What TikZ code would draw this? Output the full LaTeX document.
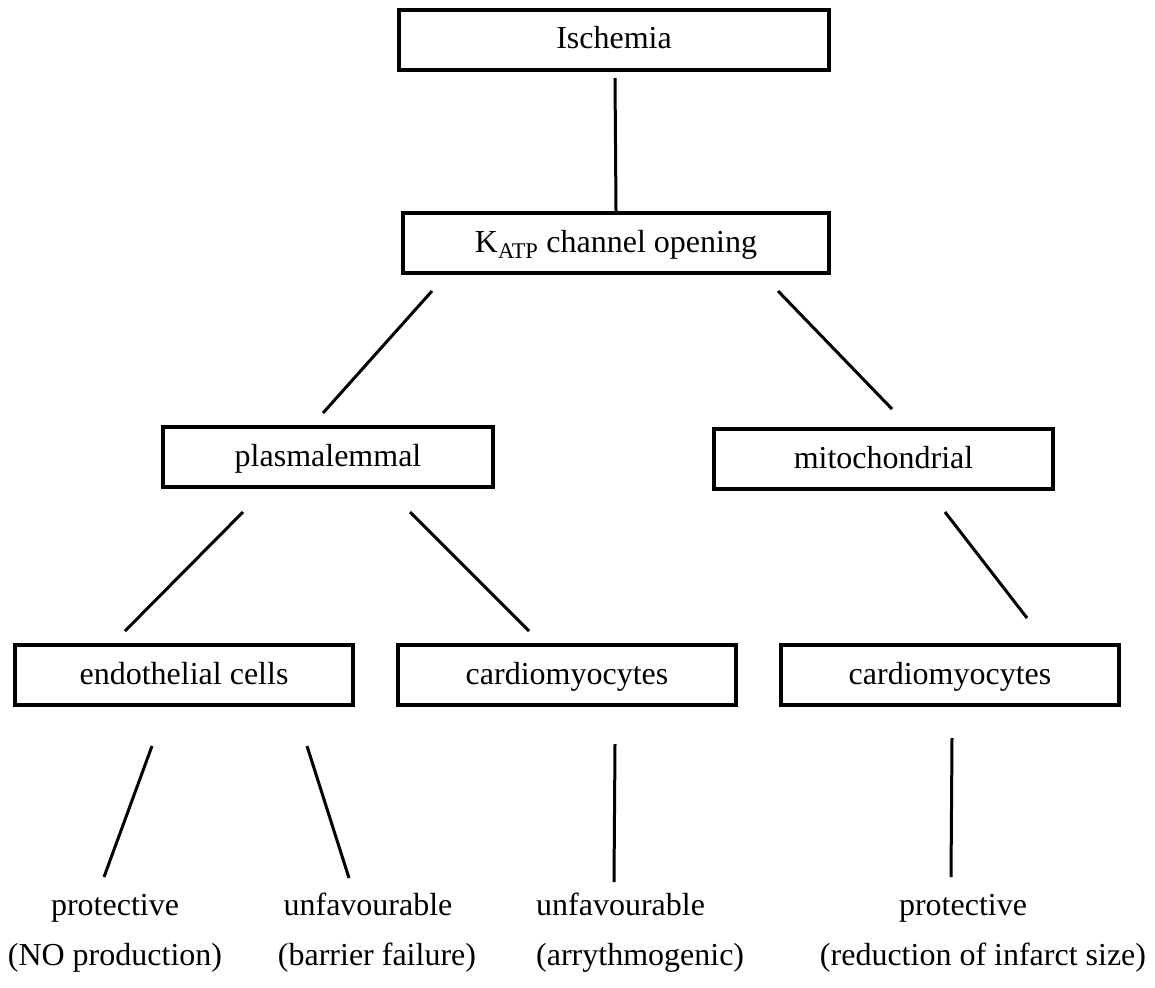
\documentclass[tikz,border=0pt]{standalone}
\usepackage{fontspec}
\setmainfont{Liberation Serif}
\begin{document}
\begin{tikzpicture}[x=1pt,y=-1pt,
  box/.style={draw, line width=3.5pt, inner sep=0pt, minimum height=60pt,
              text height=23pt, text depth=5pt,
              font=\fontsize{32}{38}\selectfont},
  link/.style={line width=3pt},
  outcome/.style={inner sep=0pt, font=\fontsize{32}{50}\selectfont, anchor=base}]
\useasboundingbox (0,0) rectangle (1155,987);
% boxes
\node[box, minimum width=430pt] (isch) at (614,40) {Ischemia};
\node[box, minimum width=426pt] (katp) at (616,243) {K\textsubscript{ATP} channel opening};
\node[box, minimum width=330pt] (plas) at (328,457) {plasmalemmal};
\node[box, minimum width=339pt] (mito) at (883.5,459) {mitochondrial};
\node[box, minimum width=338pt] (endo) at (184,675) {endothelial cells};
\node[box, minimum width=338pt] (card1) at (567,675) {cardiomyocytes};
\node[box, minimum width=338pt] (card2) at (950,675) {cardiomyocytes};
% outcomes (anchor base = baseline of the last line)
\node[outcome, align=center] (o1) at (115,965) {protective\\(NO production)};
\node[outcome, align=center] (o2) at (377,965) {unfavourable\hspace*{18pt}\\(barrier failure)};
\node[outcome, align=left, anchor=base west] (o3) at (536,965) {unfavourable\\(arrythmogenic)};
\node[outcome, align=center] (o4) at (983,965) {protective\hspace*{40pt}\\(reduction of infarct size)};
% connector end points
\coordinate (a1) at (615,78);
\coordinate (b1) at (432,291);  \coordinate (b2) at (323,413);
\coordinate (c1) at (778,291);  \coordinate (c2) at (892,409);
\coordinate (d1) at (243,512);  \coordinate (d2) at (125,631);
\coordinate (e1) at (410,512);  \coordinate (e2) at (529,631);
\coordinate (f1) at (945,512);  \coordinate (f2) at (1027,618);
\coordinate (g1) at (152,746);  \coordinate (g2) at (104,877);
\coordinate (h1) at (307,746);  \coordinate (h2) at (349,878);
\coordinate (i1) at (615,744);  \coordinate (i2) at (614,882);
\coordinate (j1) at (952,738);  \coordinate (j2) at (951,877);
% connectors
\draw[link] (a1) -- (katp.north);
\draw[link] (b1) -- (b2);
\draw[link] (c1) -- (c2);
\draw[link] (d1) -- (d2);
\draw[link] (e1) -- (e2);
\draw[link] (f1) -- (f2);
\draw[link] (g1) -- (g2);
\draw[link] (h1) -- (h2);
\draw[link] (i1) -- (i2);
\draw[link] (j1) -- (j2);
\end{tikzpicture}
\end{document}
